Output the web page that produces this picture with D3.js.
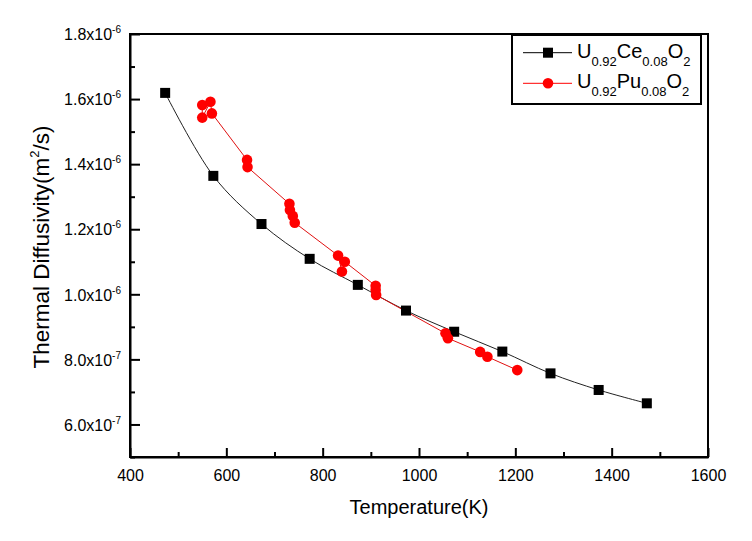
<!DOCTYPE html>
<html>
<head>
<meta charset="utf-8">
<script src="https://cdn.jsdelivr.net/npm/d3@7"></script>
<style>
  html, body { margin: 0; padding: 0; background: #fff; }
  svg text { font-family: "Liberation Sans", Arial, sans-serif; fill: #000; }
</style>
</head>
<body>
<svg id="chart" width="752" height="541"></svg>
<script>
// ---- data ----
const ceTemps = [473, 573, 673, 773, 873, 973, 1073, 1173, 1273, 1373, 1473];
const ceValues = [1.619e-6, 1.364e-6, 1.216e-6, 1.109e-6, 1.029e-6, 0.950e-6, 0.885e-6, 0.824e-6, 0.757e-6, 0.706e-6, 0.665e-6];

const puTemps = [550, 550, 567, 570, 643, 644, 731, 732, 738, 742, 832, 840, 846, 910, 910, 911, 1055, 1060, 1127, 1142, 1204];
const puValues = [1.582e-6, 1.543e-6, 1.592e-6, 1.556e-6, 1.413e-6, 1.391e-6, 1.278e-6, 1.259e-6, 1.241e-6, 1.220e-6,
                  1.119e-6, 1.070e-6, 1.100e-6, 1.026e-6, 1.013e-6, 0.998e-6, 0.880e-6, 0.865e-6, 0.823e-6, 0.808e-6, 0.767e-6];

const xTicks = [400, 600, 800, 1000, 1200, 1400, 1600];
const xMinorTicks = [500, 700, 900, 1100, 1300, 1500];
const yTicks = [6.0e-7, 8.0e-7, 1.0e-6, 1.2e-6, 1.4e-6, 1.6e-6, 1.8e-6];
const yMinorTicks = [5.0e-7, 7.0e-7, 9.0e-7, 1.1e-6, 1.3e-6, 1.5e-6, 1.7e-6];

const xTitle = "Temperature(K)";
const yTitleParts = ["Thermal Diffusivity(m", "2", "/s)"];
const legendItems = [
  { parts: [["U",""],["0.92","sub"],["Ce",""],["0.08","sub"],["O",""],["2","sub"]], color: "#000", shape: "square" },
  { parts: [["U",""],["0.92","sub"],["Pu",""],["0.08","sub"],["O",""],["2","sub"]], color: "#ff0000", shape: "circle" }
];

// ---- layout ----
const L = 130, R = 708, T = 34, B = 457;
const svg = d3.select("#chart");
const x = d3.scaleLinear().domain([400, 1600]).range([L, R]);
const y = d3.scaleLinear().domain([0.5e-6, 1.8e-6]).range([B, T]);

// frame
svg.append("rect").attr("x", L).attr("y", T).attr("width", R - L).attr("height", B - T)
  .attr("fill", "none").attr("stroke", "#000").attr("stroke-width", 2);

// x axis
const xAxis = d3.axisBottom(x).tickValues(xTicks).tickSizeInner(-9).tickSizeOuter(0).tickPadding(13).tickFormat(d3.format("d"));
const gx = svg.append("g").attr("transform", `translate(0,${B})`).call(xAxis);
gx.select(".domain").attr("stroke-width", 2);
gx.selectAll(".tick line").attr("stroke-width", 2);
gx.selectAll(".tick text").attr("font-size", 16).attr("font-family", "Liberation Sans, Arial, sans-serif");
const gxm = svg.append("g").attr("transform", `translate(0,${B})`)
  .call(d3.axisBottom(x).tickValues(xMinorTicks).tickSizeInner(-5).tickSizeOuter(0).tickFormat(""));
gxm.select(".domain").remove();
gxm.selectAll(".tick line").attr("stroke-width", 2);

// y axis
const yAxis = d3.axisLeft(y).tickValues(yTicks).tickSizeInner(-10).tickSizeOuter(0).tickPadding(12).tickFormat("");
const gy = svg.append("g").attr("transform", `translate(${L},0)`).call(yAxis);
gy.select(".domain").attr("stroke-width", 2);
gy.selectAll(".tick line").attr("stroke-width", 2);
gy.selectAll(".tick").each(function(d) {
  const s = d.toExponential(1).split("e");
  const t = d3.select(this).select("text")
    .attr("font-size", 16).attr("font-family", "Liberation Sans, Arial, sans-serif")
    .attr("x", -9).attr("dy", "0.36em");
  t.text(null);
  t.append("tspan").text(s[0] + "x10");
  t.append("tspan").attr("font-size", 10).attr("dy", -7).text(s[1].replace("+", ""));
});
const gym = svg.append("g").attr("transform", `translate(${L},0)`)
  .call(d3.axisLeft(y).tickValues(yMinorTicks).tickSizeInner(-5).tickSizeOuter(0).tickFormat(""));
gym.select(".domain").remove();
gym.selectAll(".tick line").attr("stroke-width", 2);

// axis titles
svg.append("text").attr("x", (L + R) / 2).attr("y", 514).attr("text-anchor", "middle")
  .attr("font-size", 20).text(xTitle);
const yt = svg.append("text").attr("transform", `translate(49,247) rotate(-90)`)
  .attr("text-anchor", "middle").attr("font-size", 22.5);
yt.append("tspan").text(yTitleParts[0]);
yt.append("tspan").attr("font-size", 13).attr("dy", -10).text(yTitleParts[1]);
yt.append("tspan").attr("dy", 10).text(yTitleParts[2]);

// series data
const ceData = ceTemps.map((t, i) => [t, ceValues[i]]);
const puData = puTemps.map((t, i) => [t, puValues[i]]);

svg.append("path").datum(ceData)
  .attr("d", d3.line().x(d => x(d[0])).y(d => y(d[1])).curve(d3.curveCatmullRom))
  .attr("fill", "none").attr("stroke", "#222").attr("stroke-width", 1);
svg.append("path").datum(puData)
  .attr("d", d3.line().x(d => x(d[0])).y(d => y(d[1])))
  .attr("fill", "none").attr("stroke", "#e01010").attr("stroke-width", 1);

const sq = 10;
svg.append("g").selectAll("rect").data(ceData).join("rect")
  .attr("x", d => x(d[0]) - sq / 2).attr("y", d => y(d[1]) - sq / 2)
  .attr("width", sq).attr("height", sq).attr("fill", "#000");
svg.append("g").selectAll("circle").data(puData).join("circle")
  .attr("cx", d => x(d[0])).attr("cy", d => y(d[1])).attr("r", 5.3).attr("fill", "#ff0000");

// legend
const lg = svg.append("g");
lg.append("rect").attr("x", 512).attr("y", 35).attr("width", 189).attr("height", 69)
  .attr("fill", "#fff").attr("stroke", "#000").attr("stroke-width", 2);
legendItems.forEach((it, i) => {
  const cy = 52.7 + i * 30.6;
  lg.append("line").attr("x1", 523).attr("x2", 572).attr("y1", cy).attr("y2", cy)
    .attr("stroke", it.color).attr("stroke-width", 1);
  if (it.shape === "square") {
    lg.append("rect").attr("x", 548 - 5).attr("y", cy - 5).attr("width", 10).attr("height", 10).attr("fill", it.color);
  } else {
    lg.append("circle").attr("cx", 548).attr("cy", cy).attr("r", 5.3).attr("fill", it.color);
  }
  const t = lg.append("text").attr("x", 577).attr("y", cy + 5).attr("font-size", 20);
  let prevSub = false;
  it.parts.forEach(p => {
    const sub = p[1] === "sub";
    const ts = t.append("tspan").text(p[0]);
    if (sub) { ts.attr("font-size", 13).attr("dy", prevSub ? 0 : 8); }
    else { ts.attr("dy", prevSub ? -8 : 0); }
    prevSub = sub;
  });
});
</script>
</body>
</html>
